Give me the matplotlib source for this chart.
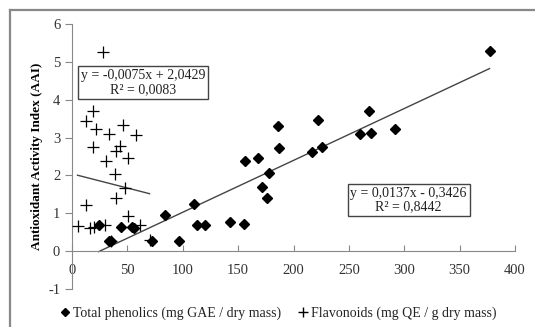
import numpy as np
import matplotlib.pyplot as plt
from matplotlib.lines import Line2D

plt.rcParams['font.family'] = ['Liberation Serif', 'DejaVu Serif']
plt.rcParams['axes.unicode_minus'] = False

# total phenolics (mg GAE / dry mass) vs AAI
phen_x = [24, 33, 35, 44, 54, 56, 72, 84, 97, 110, 113, 120, 143, 155, 156, 168, 172, 176, 178,
          186, 187, 217, 222, 226, 260, 268, 270, 292, 377]
phen_y = [0.70, 0.28, 0.26, 0.65, 0.65, 0.60, 0.28, 0.95, 0.27, 1.24, 0.70, 0.70, 0.77, 0.72,
          2.38, 2.47, 1.70, 1.40, 2.07, 3.30, 2.72, 2.63, 3.47, 2.76, 3.09, 3.69, 3.11, 3.23, 5.28]

# flavonoids (mg QE / g dry mass) vs AAI
flav_x = [5, 13, 13, 16, 19, 19, 20, 22, 28, 30, 31, 33, 35, 39, 40, 40, 43, 46, 48, 51, 51,
          58, 61, 70]
flav_y = [0.66, 1.23, 3.45, 0.61, 3.71, 2.74, 0.64, 3.23, 5.26, 0.69, 2.37, 3.10, 0.27, 2.05,
          2.65, 1.41, 2.77, 3.32, 1.67, 2.46, 0.94, 3.08, 0.69, 0.30]

phen_fit = (0.0137, -0.3426)
flav_fit = (-0.0075, 2.0429)

fig = plt.figure(figsize=(5.35, 3.27), dpi=100)
ax = fig.add_axes([72 / 535, 1 - 289 / 327, 443 / 535, 265 / 327])

ax.plot(phen_x, phen_y, 'D', color='black', ms=5.5, zorder=3)
ax.plot(flav_x, flav_y, '+', color='black', ms=8, mew=0.9, zorder=3)

xx = np.array([min(phen_x), max(phen_x)])
ax.plot(xx, phen_fit[0] * xx + phen_fit[1], color='#444444', lw=1)
xx = np.array([min(flav_x), max(flav_x)])
ax.plot(xx, flav_fit[0] * xx + flav_fit[1], color='#444444', lw=1)

ax.set_xlim(0, 400)
ax.set_ylim(-1, 6)
for s in ['top', 'right']:
    ax.spines[s].set_visible(False)
ax.spines['left'].set_color('#888888')
ax.spines['bottom'].set_position(('data', 0))
ax.spines['bottom'].set_color('#888888')
ax.set_yticks(range(-1, 7))
ax.set_xticks(range(0, 401, 50))
ax.tick_params(axis='y', direction='out', length=5, color='#888888', labelsize=10.5,
               labelcolor='#333333')
ax.tick_params(axis='x', direction='in', length=4, color='#888888', labelsize=10.5,
               labelcolor='#333333', pad=9)

ax.set_ylabel('Antioxidant Activity Index (AAI)', fontsize=9.5, fontweight='bold', labelpad=4)

ax.text(64.5, 4.46, 'y = -0,0075x + 2,0429\nR² = 0,0083', ha='center', va='center',
        fontsize=10, linespacing=1.1, color='#222222',
        bbox=dict(boxstyle='square,pad=0.2', fc='white', ec='#444444', lw=1))
ax.text(304, 1.35, 'y = 0,0137x - 0,3426\nR² = 0,8442', ha='center', va='center',
        fontsize=10, linespacing=1.1, color='#222222',
        bbox=dict(boxstyle='square,pad=0.2', fc='white', ec='#444444', lw=1))

h1 = Line2D([], [], ls='', marker='D', color='black', ms=4.5)
h2 = Line2D([], [], ls='', marker='+', color='black', ms=7)
fig.legend([h1, h2], ['Total phenolics (mg GAE / dry mass)', 'Flavonoids (mg QE / g dry mass)'],
           loc='center', bbox_to_anchor=(278 / 535, 1 - 313 / 327), ncol=2, frameon=False,
           fontsize=10, handlelength=0.7, handletextpad=0.25, columnspacing=1.2,
           labelcolor='#222222')

# outer frame
fig.add_artist(Line2D([10 / 535, 10 / 535], [0, 1 - 10 / 327], color='#888888', lw=1.6))
fig.add_artist(Line2D([10 / 535, 1], [1 - 10 / 327, 1 - 10 / 327], color='#888888', lw=1.6))

fig.savefig('out.png', dpi=100)
